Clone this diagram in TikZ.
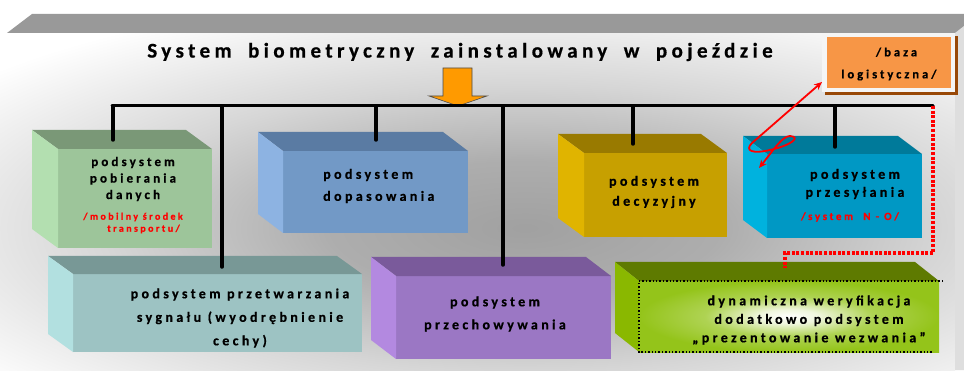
\documentclass[tikz,border=0pt]{standalone}
\usepackage{fontspec}
\setmainfont{Carlito}
\newfontfamily\spaced[LetterSpace=24,FakeBold=0.6]{Carlito Bold}
\newfontfamily\spacedwide[LetterSpace=21,WordSpace=1.8,FakeBold=0.6]{Carlito Bold}
\usetikzlibrary{arrows.meta,calc}

\definecolor{barGray}{HTML}{999999}
\definecolor{stripGray}{HTML}{DEDEDE}
\definecolor{grnFront}{HTML}{9DC59A}
\definecolor{grnTop}{HTML}{7A9877}
\definecolor{grnSide}{HTML}{B3DFB0}
\definecolor{bluFront}{HTML}{7299C6}
\definecolor{bluTop}{HTML}{5A7BA3}
\definecolor{bluSide}{HTML}{8DB3E2}
\definecolor{yelFront}{HTML}{C7A000}
\definecolor{yelTop}{HTML}{997A00}
\definecolor{yelSide}{HTML}{E0B400}
\definecolor{cyaFront}{HTML}{0098C4}
\definecolor{cyaTop}{HTML}{007A9A}
\definecolor{cyaSide}{HTML}{00B2DE}
\definecolor{teaFront}{HTML}{9DC3C3}
\definecolor{teaTop}{HTML}{789896}
\definecolor{teaSide}{HTML}{B2E0E0}
\definecolor{purFront}{HTML}{9B77C4}
\definecolor{purTop}{HTML}{7A5A9B}
\definecolor{purSide}{HTML}{B389E0}
\definecolor{limFront}{HTML}{94C41A}
\definecolor{limTop}{HTML}{5E7A00}
\definecolor{limSide}{HTML}{8AB800}
\definecolor{bazaOrange}{HTML}{F79646}
\definecolor{bazaBrown}{HTML}{984807}
\definecolor{arrOrange}{HTML}{FF9A00}

\pgfdeclareradialshading{wallglow}{\pgfpoint{0bp}{0bp}}{%
  color(0bp)=(black!37); color(7bp)=(black!32); color(15bp)=(black!16);
  color(25bp)=(white); color(50bp)=(white)}
\pgfdeclareradialshading{limeglow}{\pgfpoint{0bp}{0bp}}{%
  color(0bp)=(white); color(5bp)=(white!85!limFront); color(14bp)=(limFront!75!white);
  color(25bp)=(limFront); color(50bp)=(limFront)}

% top and left faces of a box whose front face is node #1
\newcommand\cubefaces[5]{%
  \fill[#4] (#1.north west) -- ++(-#2,-#3) -- ($(#1.north east)+(-#2,-#3)$) -- (#1.north east) -- cycle;
  \fill[#5] (#1.north west) -- ++(-#2,-#3) -- ($(#1.south west)+(-#2,-#3)$) -- (#1.south west) -- cycle;
}

\begin{document}
\begin{tikzpicture}[x=1pt,y=-1pt,
  face/.style={rectangle,inner sep=0pt,outer sep=0pt,anchor=north west},
  lbl/.style={align=center,inner sep=0pt,font=\spaced\fontsize{14}{20}\selectfont},
  sublbl/.style={align=center,inner sep=0pt,text=red,font=\spaced\fontsize{10}{12}\selectfont},
  bus/.style={line width=3pt,line cap=round},
  drop/.style={line width=3.5pt,line cap=round},
  reddots/.style={red,line width=3.4pt,dash pattern=on 3pt off 1.6pt},
  redarrow/.style={red,line width=1.8pt,{Stealth[length=8pt,width=7pt]}-{Stealth[length=8pt,width=7pt]}}]

\useasboundingbox (0,0) rectangle (964,374);

% wall with soft grey glow
\fill[white] (0,0) rectangle (964,374);
\begin{scope}
  \clip (0,33) rectangle (955,370);
  \shade[shading=wallglow] (525,228) ellipse (700 and 240);
\end{scope}
\fill[barGray] (7,33) -- (32,14) -- (964,14) -- (964,33) -- cycle;
\fill[stripGray] (955,33) -- (964,26) -- (964,370) -- (955,370) -- cycle;

% title and orange arrow
\node[font=\spacedwide\fontsize{21}{22}\selectfont,inner sep=0pt] (title) at (460,52)
  {System biometryczny zainstalowany w pojeździe};
\coordinate (tip) at (458,106);
\fill[arrOrange,draw=black!70,line width=0.6pt]
  (tip) -- ++(-29,-10) -- ++(14,0) -- ++(0,-28) -- ++(29,0) -- ++(0,28) -- ++(15,0) -- cycle;

% front faces
\node[face,fill=grnFront,minimum width=154,minimum height=99] (pob) at (58,149) {};
\node[face,fill=bluFront,minimum width=185,minimum height=82] (dop) at (283,151) {};
\node[face,fill=yelFront,minimum width=143,minimum height=84] (dec) at (584,153) {};
\node[face,fill=cyaFront,minimum width=155,minimum height=84] (prs) at (767,154) {};
\node[face,fill=teaFront,minimum width=289,minimum height=78] (prz) at (73,274) {};
\node[face,fill=purFront,minimum width=215,minimum height=83] (prc) at (396,276) {};
\node[face,shading=limeglow,minimum width=300,minimum height=71] (dyn) at (639,281) {};

\cubefaces{pob}{26}{19}{grnTop}{grnSide}
\cubefaces{dop}{25}{19}{bluTop}{bluSide}
\cubefaces{dec}{26}{19}{yelTop}{yelSide}
\cubefaces{prs}{24}{18}{cyaTop}{cyaSide}
\cubefaces{prz}{25}{18}{teaTop}{teaSide}
\cubefaces{prc}{25}{19}{purTop}{purSide}
\cubefaces{dyn}{24}{19}{limTop}{limSide}
\draw[black,line width=1.4pt,dotted] ($(dyn.north east)+(4,0)$) -- (dyn.north west) -- (dyn.south west) -- ($(dyn.south east)+(-7,0)$);

% box captions
\node[lbl,font=\spaced\fontsize{13}{16.5}\selectfont] (pob-t) at (133,179) {podsystem\\pobierania\\danych};
\node[sublbl,align=left] (pob-s) at (133,223) {/mobilny środek\\\hspace*{2.4em}transportu/};
\node[lbl,align=left,anchor=west,font=\spaced\fontsize{14}{22}\selectfont] (dop-t) at (323,186) {podsystem\\dopasowania};
\node[lbl] (dec-t) at (654,192) {podsystem\\decyzyjny};
\node[lbl,font=\spaced\fontsize{14}{18}\selectfont] (prs-t) at (855,184) {podsystem\\przesyłania};
\node[sublbl,font=\spaced\fontsize{11}{12}\selectfont] (prs-s) at (850,217) {/system~~N - O/};
\node[lbl,font=\spaced\fontsize{14}{23.5}\selectfont] (prz-t) at (240,318) {podsystem przetwarzania\\sygnału (wyodrębnienie\\cechy)};
\node[lbl,font=\spaced\fontsize{14}{23}\selectfont] (prc-t) at (495,314) {podsystem\\przechowywania};
\node[lbl,font=\spaced\fontsize{14}{18.5}\selectfont] (dyn-t) at (809,320) {dynamiczna weryfikacja\\dodatkowo podsystem\\„prezentowanie wezwania”};

% logistics base
\fill[bazaBrown] (825,36) rectangle (958,95);
\fill[black!4] (822,33) rectangle (955,92);
\node[face,fill=bazaOrange,minimum width=124,minimum height=51] (baza) at (827,37) {};
\node[lbl,font=\spaced\fontsize{12.5}{22}\selectfont] (baza-t) at (889,64) {\hspace*{1.2em}/baza\\logistyczna/};

% bus and drops
\coordinate (busL) at (112,106);
\coordinate (busR) at (933,106);
\coordinate (b-pob) at (113,106);
\coordinate (b-prz) at (222,106);
\coordinate (b-dop) at (376,106);
\coordinate (b-prc) at (503,106);
\coordinate (b-dec) at (633,106);
\coordinate (b-prs) at (835,106);
\coordinate (e-pob) at (113,140);
\coordinate (e-prz) at (222,267);
\coordinate (e-dop) at (376,140);
\coordinate (e-prc) at (503,265);
\coordinate (e-dec) at (633,144);
\coordinate (e-prs) at (835,147);
\coordinate (e-dyn) at (785,268);
\draw[bus] (busL) -- (busR);
\foreach \k in {pob,prz,dop,prc,dec,prs}{\draw[drop] (b-\k) -- (e-\k);}
\draw[reddots] (busR) -- ++(0,147) -| (e-dyn);

% two-way link between the base and the transmission subsystem
\coordinate (ra1) at (822,82);
\coordinate (ra2) at (759,168);
\draw[redarrow] (ra1) -- (752,143) .. controls (744,151) and (753,154) .. (770,150)
  .. controls (792,145) and (801,137) .. (790,136) .. controls (782,136) and (772,152) .. (ra2);
\end{tikzpicture}
\end{document}
